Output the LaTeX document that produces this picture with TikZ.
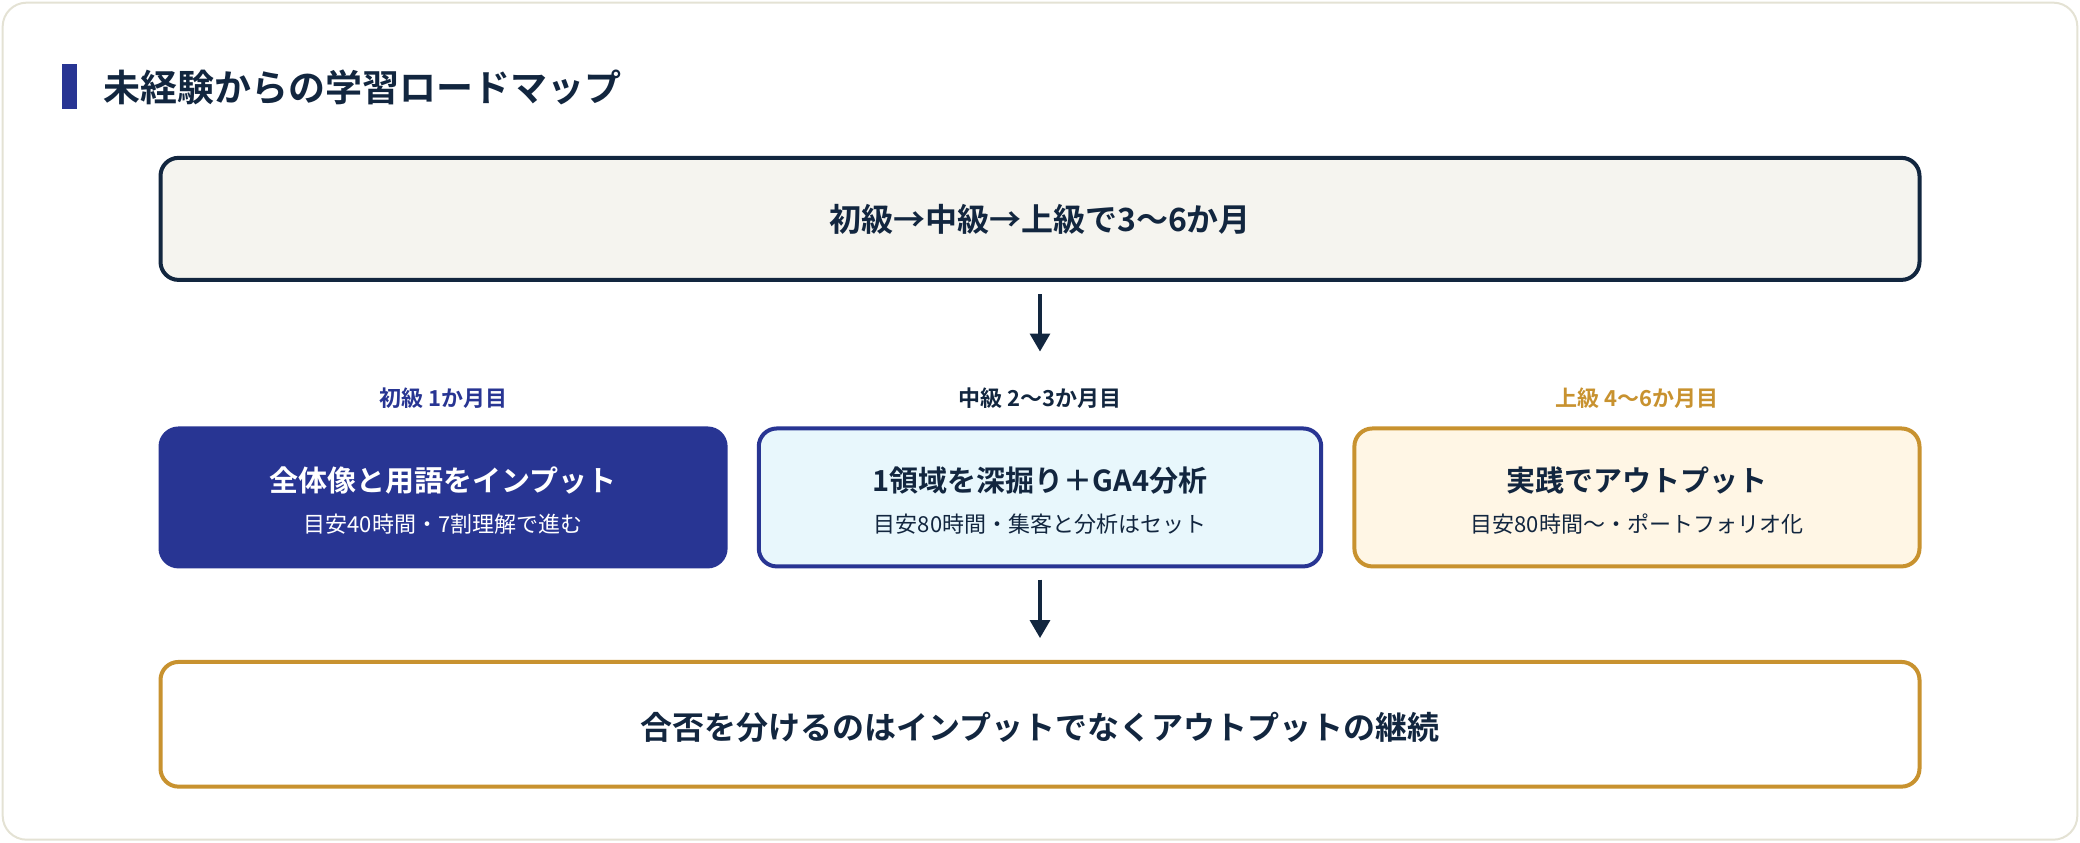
\documentclass[tikz,border=0pt]{standalone}
\usepackage{fontspec}
\setmainfont{Noto Sans CJK JP}
\newfontfamily\jb{Noto Sans CJK JP Bold}
\usetikzlibrary{arrows.meta}
\definecolor{navy}{HTML}{12263F}
\definecolor{indigo}{HTML}{283593}
\definecolor{gold}{HTML}{C8922F}
\begin{document}
\begin{tikzpicture}[x=0.6633pt,y=-0.6633pt,
  box/.style={draw, line width=2pt, rounded corners=9pt, inner sep=0pt},
  arr/.style={draw=navy, line width=1.6pt, -{Triangle[length=9pt,width=10pt]}},
  lab/.style={font=\jb\fontsize{11}{13}\selectfont},
  ttl/.style={font=\jb\fontsize{14.5}{17}\selectfont},
  sub/.style={font=\fontsize{11}{13}\selectfont}]
\useasboundingbox (0,0) rectangle (1568,635);
\draw[draw={rgb,255:red,228;green,226;blue,212}, line width=1pt, fill=white, rounded corners=12pt] (2,2) rectangle (1566,633);
\fill[indigo] (47,48) rectangle (58,82);
\node[anchor=west, text=navy, font=\jb\fontsize{18.5}{22}\selectfont] (title) at (73,66) {未経験からの学習ロードマップ};
\draw[box, draw=navy, fill={rgb,255:red,245;green,244;blue,239}] (121,119) rectangle (1447,211);
\node[text=navy, font=\jb\fontsize{16}{19}\selectfont] (top) at (784,165) {初級→中級→上級で3〜6か月};
\coordinate (a1s) at (784,222); \coordinate (a1e) at (784,265);
\draw[arr] (a1s) -- (a1e);
\node[lab, text=indigo] (l1) at (334,300) {初級 1か月目};
\node[lab, text=navy] (l2) at (784,300) {中級 2〜3か月目};
\node[lab, text=gold] (l3) at (1234,300) {上級 4〜6か月目};
\draw[box, draw=indigo, fill=indigo] (121,323) rectangle (547,427);
\node[ttl, text=white] (b1) at (334,362) {全体像と用語をインプット};
\node[sub, text=white] (s1) at (334,395) {目安40時間・7割理解で進む};
\draw[box, draw=indigo, fill={rgb,255:red,232;green,247;blue,252}] (572,323) rectangle (996,427);
\node[ttl, text=navy] (b2) at (784,362) {1領域を深掘り＋GA4分析};
\node[sub, text=navy] (s2) at (784,395) {目安80時間・集客と分析はセット};
\draw[box, draw=gold, fill={rgb,255:red,255;green,246;blue,229}] (1021,323) rectangle (1447,427);
\node[ttl, text=navy] (b3) at (1234,362) {実践でアウトプット};
\node[sub, text=navy] (s3) at (1234,395) {目安80時間〜・ポートフォリオ化};
\coordinate (a2s) at (784,437); \coordinate (a2e) at (784,481);
\draw[arr] (a2s) -- (a2e);
\draw[box, draw=gold, fill=white] (121,499) rectangle (1447,593);
\node[text=navy, font=\jb\fontsize{16}{19}\selectfont] (bot) at (784,548) {合否を分けるのはインプットでなくアウトプットの継続};
\end{tikzpicture}
\end{document}
